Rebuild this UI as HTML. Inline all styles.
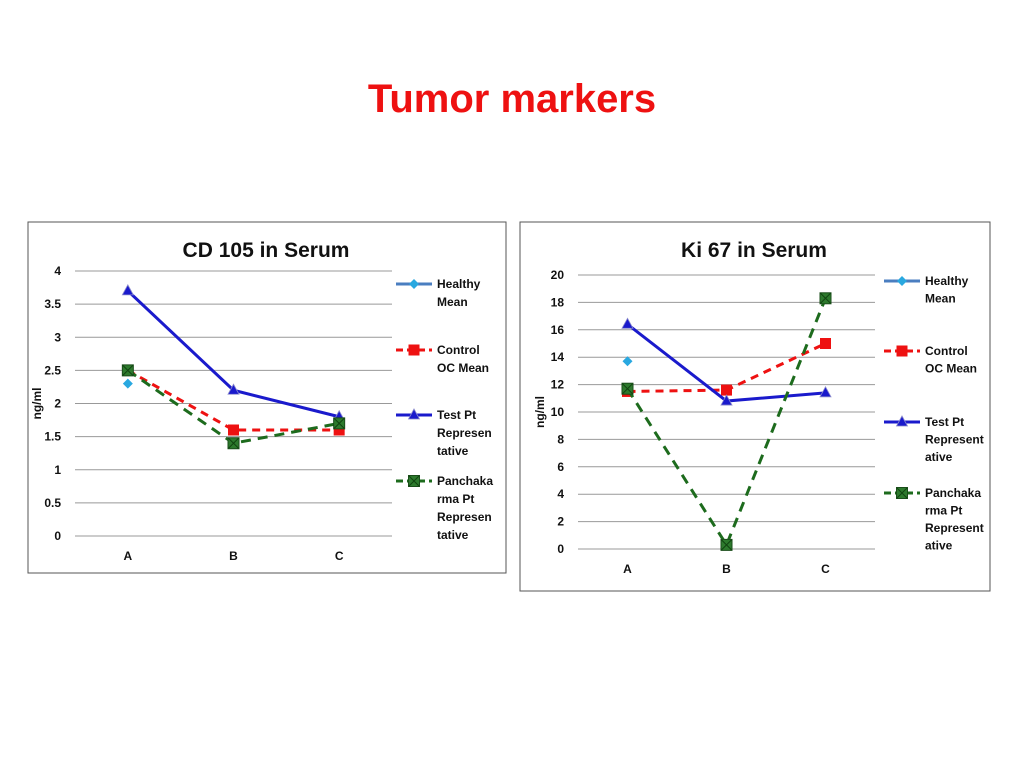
<!DOCTYPE html>
<html><head><meta charset="utf-8"><style>
body{margin:0;background:#fff;width:1024px;height:768px;overflow:hidden;font-family:"Liberation Sans",sans-serif}
svg text{font-family:"Liberation Sans",sans-serif}
</style></head><body>
<svg id="s" width="1024" height="768">
<text x="512" y="112" text-anchor="middle" font-size="40" font-weight="bold" fill="#ee1111">Tumor markers</text>
</svg>
<script>
const categories=["A","B","C"];
const cdHealthy=[2.3,null,null];
const cdControl=[2.5,1.6,1.6];
const cdTest=[3.7,2.2,1.8];
const cdPanch=[2.5,1.4,1.7];
const cdTicks=[0,0.5,1,1.5,2,2.5,3,3.5,4];
const kiHealthy=[13.7,null,null];
const kiControl=[11.5,11.6,15];
const kiTest=[16.4,10.8,11.4];
const kiPanch=[11.7,0.3,18.3];
const kiTicks=[0,2,4,6,8,10,12,14,16,18,20];
const legendLabels=[["Healthy","Mean"],["Control","OC Mean"],["Test Pt","Represen","tative"],["Panchaka","rma Pt","Represen","tative"]];
const legendLabels2=[["Healthy","Mean"],["Control","OC Mean"],["Test Pt","Represent","ative"],["Panchaka","rma Pt","Represent","ative"]];
const NS="http://www.w3.org/2000/svg";
const svg=document.getElementById('s');
function mk(tag,attrs,parent,text){const e=document.createElementNS(NS,tag);for(const k in attrs)e.setAttribute(k,attrs[k]);if(text!=null)e.textContent=text;(parent||svg).appendChild(e);return e;}
function marker(g,type,x,y){
 if(type==='diamond'){mk('polygon',{points:`${x},${y-5} ${x+5},${y} ${x},${y+5} ${x-5},${y}`,fill:'#29a8e0'},g);}
 else if(type==='square'){mk('rect',{x:x-5.5,y:y-5.5,width:11,height:11,fill:'#ee1111'},g);}
 else if(type==='tri'){mk('polygon',{points:`${x},${y-6} ${x+5.5},${y+4} ${x-5.5},${y+4}`,fill:'#1a1acc',stroke:'#8888cc','stroke-width':0.8},g);}
 else {mk('rect',{x:x-5.5,y:y-5.5,width:11,height:11,fill:'#2d7a2d',stroke:'#1a4d1a','stroke-width':1},g);
  mk('path',{d:`M${x-5} ${y-5}L${x+5} ${y+5}M${x+5} ${y-5}L${x-5} ${y+5}`,stroke:'#114411','stroke-width':1},g);}
}
function chart(o){
 const g=mk('g',{});
 
 
 const fr=mk('rect',{x:o.bx,y:o.by,width:o.bw,height:o.bh,fill:'#fff',stroke:'#555','stroke-width':1},g);
 
 const t=mk('text',{x:o.tx,y:o.ty,'text-anchor':'middle','font-size':21,'font-weight':'bold',fill:'#111'},g,o.title);
 
 const max=o.ticks[o.ticks.length-1];
 const ys=v=>o.y0-(v/max)*(o.y0-o.y1);
 const band=(o.x1-o.x0)/categories.length;
 const xs=i=>o.x0+band*(i+0.5);
 o.ticks.forEach(v=>{
  const l=mk('line',{x1:o.x0,x2:o.x1,y1:ys(v),y2:ys(v),stroke:'#999','stroke-width':1},g);
  
  const tt=mk('text',{x:o.x0-14,y:ys(v)+4,'text-anchor':'end','font-size':12,'font-weight':'bold',fill:'#111'},g,String(v));
  
 });
 categories.forEach((c,i)=>{
  const tt=mk('text',{x:xs(i),y:o.y0+24,'text-anchor':'middle','font-size':12,'font-weight':'bold',fill:'#111'},g,c);
  
 });
 const yl=mk('text',{transform:`translate(${o.x0-34},${(o.y0+o.y1)/2}) rotate(-90)`,'text-anchor':'middle','font-size':12,'font-weight':'bold',fill:'#111'},g,'ng/ml');
 
 const series=[
  {d:o.h,col:'#4a7ec0',dash:null,m:'diamond',n:'series-healthy-mean'},
  {d:o.c,col:'#ee1111',dash:'8,6',m:'square',n:'series-control-oc-mean'},
  {d:o.t,col:'#1a1acc',dash:null,m:'tri',n:'series-test-pt'},
  {d:o.p,col:'#1d6b1d',dash:'10,7',m:'x',n:'series-panchakarma-pt'}];
 series.forEach((s,si)=>{
  const sg=mk('g',{},g);
  const pts=[];s.d.forEach((v,i)=>{if(v!=null)pts.push([xs(i),ys(v)]);});
  if(pts.length>1){const pl=mk('polyline',{points:pts.map(p=>p.join(',')).join(' '),fill:'none',stroke:s.col,'stroke-width':3,'stroke-dasharray':s.dash||'none'},sg);
   }
  pts.forEach(p=>marker(sg,s.m,p[0],p[1]));
  const lg=mk('g',{},g);
  const ly=o.leg[si];
  mk('line',{x1:o.lx,x2:o.lx+36,y1:ly,y2:ly,stroke:s.col,'stroke-width':3,'stroke-dasharray':s.dash?'7,4':'none'},lg);
  marker(lg,s.m,o.lx+18,ly);
  o.labels[si].forEach((w,k)=>mk('text',{x:o.lx+41,y:ly+4+k*o.lh,'font-size':12,'font-weight':'bold',fill:'#111'},lg,w));
 });
}
chart({name:'cd105-chart',bx:28,by:222,bw:478,bh:351,tx:266,ty:257,title:'CD 105 in Serum',x0:75,x1:392,y0:536,y1:271,ticks:cdTicks,
 h:cdHealthy,c:cdControl,t:cdTest,p:cdPanch,lx:396,leg:[284,350,415,481],lh:18,labels:legendLabels});
chart({name:'ki67-chart',bx:520,by:222,bw:470,bh:369,tx:754,ty:257,title:'Ki 67 in Serum',x0:578,x1:875,y0:549,y1:275,ticks:kiTicks,
 h:kiHealthy,c:kiControl,t:kiTest,p:kiPanch,lx:884,leg:[281,351,422,493],lh:17.5,labels:legendLabels2});
</script>
</body></html>
